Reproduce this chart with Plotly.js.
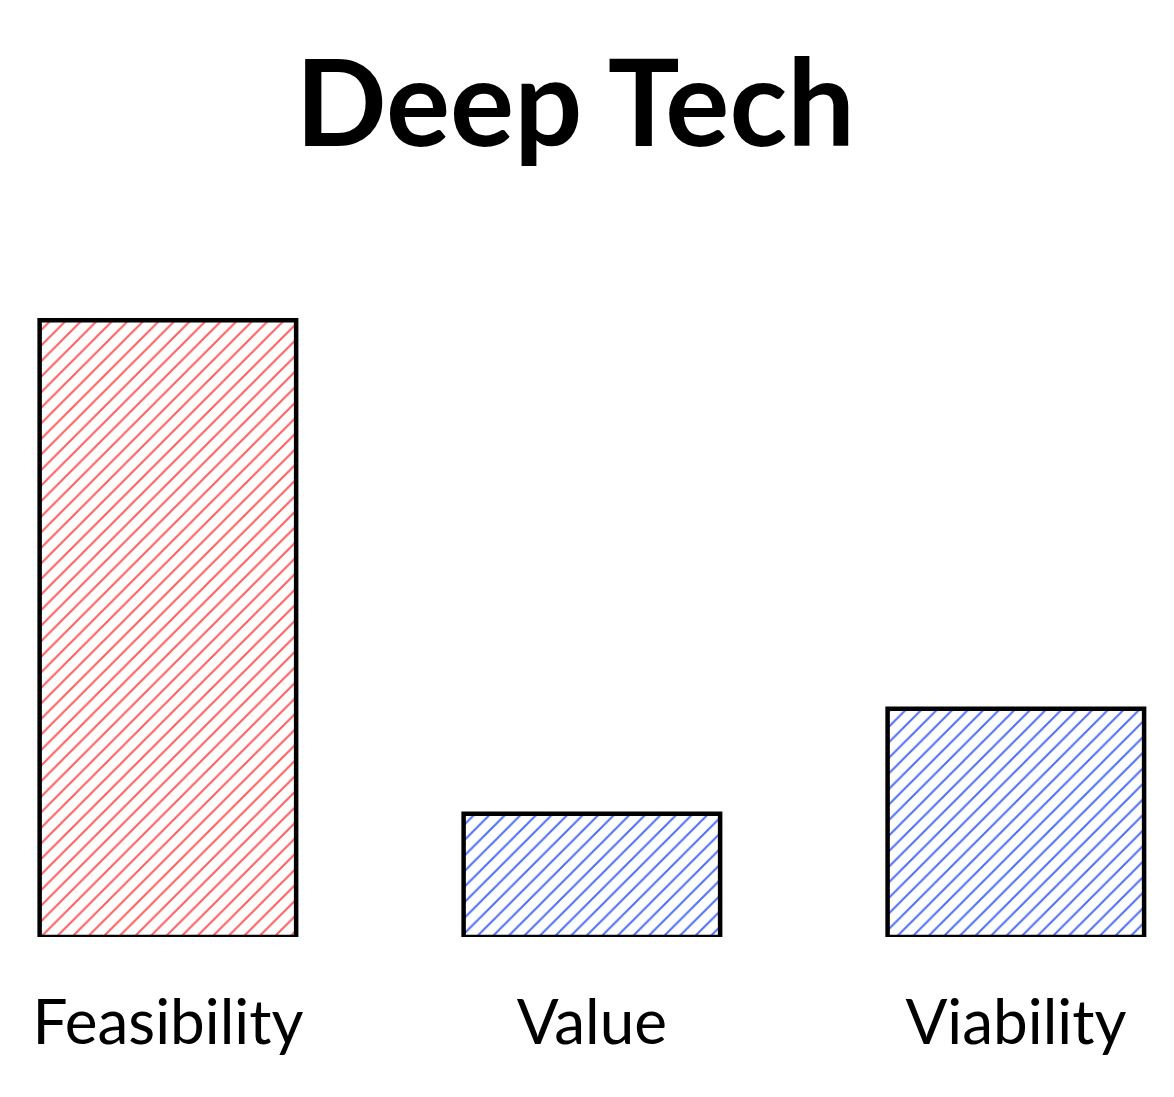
<!DOCTYPE html>
<html>
<head>
<meta charset="utf-8">
<script src="https://cdn.plot.ly/plotly-3.0.1.min.js"></script>
<style>html,body{margin:0;padding:0;background:#fff;}#chart{width:1174px;height:1097px;}</style>
</head>
<body>
<div id="chart"></div>
<script>
const categories = ["Feasibility", "Value", "Viability"];
const values = [100, 20, 37];
const titleText = "Deep Tech";

const RED = "#ff5c5c";
const BLUE = "#4c6ef5";
const barColors = [RED, BLUE, BLUE];

const trace = {
  type: "bar",
  x: [0, 1, 2],
  y: values,
  width: 0.605,
  marker: {
    color: "rgba(255,255,255,0)",
    line: { color: "#000", width: 4.5 },
    pattern: { shape: "/", fgcolor: barColors, fgopacity: 1, bgcolor: "rgba(255,255,255,0)", size: 11, solidity: 0.18, fillmode: "overlay" }
  },
  hoverinfo: "skip"
};

const layout = {
  width: 1174, height: 1097,
  paper_bgcolor: "#fff", plot_bgcolor: "#fff",
  margin: { l: 0, r: 0, t: 200, b: 160 },
  title: { text: titleText, x: 0.49, xanchor: "center", y: 0.905, yanchor: "middle",
           font: { family: "Lato", size: 120, color: "#000", weight: 700 } },
  showlegend: false,
  xaxis: {
    range: [-0.396, 2.373],
    tickmode: "array", tickvals: [0, 1, 2], ticktext: categories,
    tickfont: { family: "Lato", size: 62, color: "#000" },
    ticklabelstandoff: 44,
    showgrid: false, zeroline: false, showline: false, ticks: ""
  },
  yaxis: { range: [0, 119.5], visible: false, showgrid: false, zeroline: false }
};

Plotly.newPlot("chart", [trace], layout, { displayModeBar: false, staticPlot: true });
</script>
</body>
</html>
